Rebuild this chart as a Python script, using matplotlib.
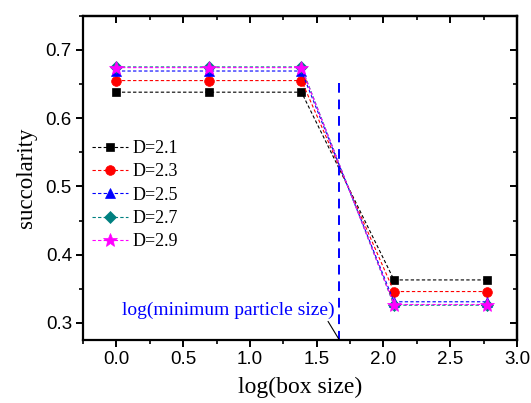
import matplotlib
matplotlib.use("Agg")
import matplotlib.pyplot as plt
import numpy as np
from matplotlib.ticker import MultipleLocator

plt.rcParams["font.family"] = ["Liberation Sans", "DejaVu Sans"]

x_vals = [0.0, 0.693, 1.386, 2.079, 2.773]
labels = ["D=2.1", "D=2.3", "D=2.5", "D=2.7", "D=2.9"]
d21 = [0.638, 0.638, 0.638, 0.363, 0.363]
d23 = [0.655, 0.655, 0.655, 0.346, 0.346]
d25 = [0.669, 0.669, 0.669, 0.331, 0.331]
d27 = [0.675, 0.675, 0.675, 0.326, 0.326]
d29 = [0.674, 0.674, 0.674, 0.327, 0.327]
series = [d21, d23, d25, d27, d29]
colors = ["black", "red", "blue", "#008080", "magenta"]
markers = ["s", "o", "^", "D", "*"]
msizes = [6, 7, 7, 6, 10]

min_particle = 1.67

fig = plt.figure(figsize=(5.31, 4.03), dpi=100)
ax = fig.add_axes([0.1563, 0.1563, 0.8173, 0.8047])

for ys, lab, c, m, ms in zip(series, labels, colors, markers, msizes):
    ax.plot(x_vals, ys, color=c, marker=m, markersize=ms, linestyle=(0, (3, 2)),
            linewidth=0.8, label=lab, markeredgewidth=0.5, markeredgecolor=c)

ax.plot([min_particle, min_particle], [0.652, 0.275], color="blue",
        linestyle=(0, (5, 3.5)), linewidth=1.4)

ax.annotate("log(minimum particle size)", xy=(min_particle, 0.275),
            xytext=(0.84, 0.319), textcoords="data", ha="center", va="center",
            fontsize=14, color="blue", family="Liberation Serif",
            arrowprops=dict(arrowstyle="-", color="black", lw=0.8,
                            shrinkA=0, shrinkB=0, relpos=(0.96, 0.0)))

ax.set_xlim(-0.25, 3.0)
ax.set_ylim(0.275, 0.75)
ax.xaxis.set_major_locator(MultipleLocator(0.5))
ax.xaxis.set_minor_locator(MultipleLocator(0.25))
ax.yaxis.set_major_locator(MultipleLocator(0.1))
ax.yaxis.set_minor_locator(MultipleLocator(0.05))

for s in ax.spines.values():
    s.set_linewidth(1.6)

ax.tick_params(which="major", direction="out", length=5, width=1.4,
               labelsize=13.5, pad=3)
ax.tick_params(which="minor", direction="out", length=3, width=1.2)

top = ax.secondary_xaxis("top")
top.xaxis.set_major_locator(MultipleLocator(0.5))
top.xaxis.set_minor_locator(MultipleLocator(0.25))
top.tick_params(which="major", direction="in", length=5, width=1.4, labeltop=False)
top.tick_params(which="minor", direction="in", length=3, width=1.2)
top.spines["top"].set_linewidth(1.6)
right = ax.secondary_yaxis("right")
right.yaxis.set_major_locator(MultipleLocator(0.1))
right.yaxis.set_minor_locator(MultipleLocator(0.05))
right.tick_params(which="major", direction="in", length=5, width=1.4, labelright=False)
right.tick_params(which="minor", direction="in", length=3, width=1.2)
right.spines["right"].set_linewidth(1.6)

ax.set_xlabel("log(box size)", fontsize=17, family="Liberation Serif", labelpad=6)
ax.set_ylabel("succolarity", fontsize=16.5, family="Liberation Serif", labelpad=6)

leg = ax.legend(loc="upper left", bbox_to_anchor=(0.0, 0.645), frameon=False,
                prop={"family": "Liberation Serif", "size": 13}, handlelength=2.0,
                handletextpad=0.25, labelspacing=0.35, borderaxespad=0.1)

fig.savefig("out.png", dpi=100)
